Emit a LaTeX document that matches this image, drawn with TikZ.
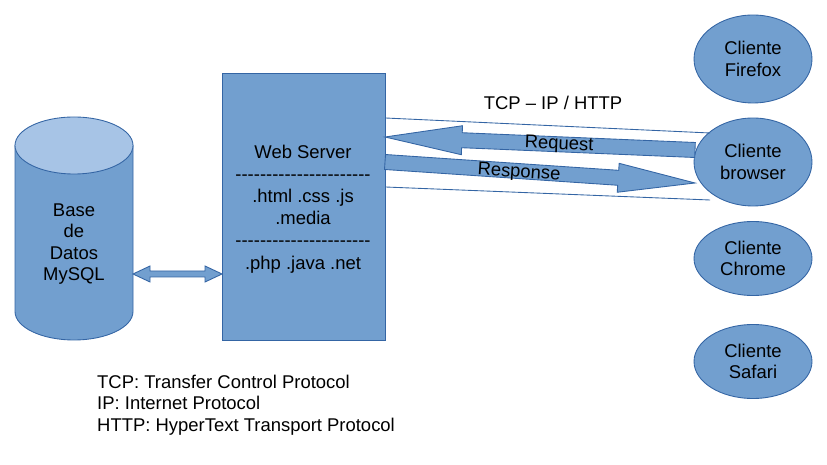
\documentclass[tikz,border=0pt]{standalone}
\usepackage{fontspec}
\setmainfont{Liberation Sans}
\usepackage{tikz}
\usetikzlibrary{positioning,shapes.geometric,calc}
\definecolor{boxfill}{HTML}{729FCF}
\definecolor{boxline}{HTML}{3465A4}
\definecolor{cyltopfill}{HTML}{A7C4E6}
\newcommand{\dashline}{\foreach \i in {1,...,22}{-}}
% fat arrow from #1 (tail) to #2 (tip)
\newcommand{\fatarrow}[2]{%
  \coordinate (fa-h) at ($(#2)!1.54cm!(#1)$);
  \draw[arrowbody] ($(#1)!0.15cm!90:(#2)$) -- ($(fa-h)!0.15cm!90:(#2)$)
    -- ($(fa-h)!0.29cm!90:(#2)$) -- (#2) -- ($(fa-h)!0.29cm!-90:(#2)$)
    -- ($(fa-h)!0.15cm!-90:(#2)$) -- ($(#1)!0.15cm!-90:(#2)$) -- cycle;}

\begin{document}
\begin{tikzpicture}[x=0.02cm,y=-0.02cm,
  every node/.style={font=\fontsize{10.5}{12.1}\selectfont,text=black},
  arrowbody/.style={draw=boxline,fill=boxfill,line width=0.5pt},
  client/.style={ellipse,draw=boxline,fill=boxfill,line width=0.5pt,
    minimum width=2.36cm,minimum height=1.76cm,inner sep=0pt},
  clientlabel/.style={align=center},
  server/.style={rectangle,draw=boxline,fill=boxfill,line width=0.5pt,
    minimum width=3.26cm,minimum height=5.34cm,align=center,
    font=\fontsize{10.5}{12.6}\selectfont},
  wire/.style={draw=boxline,line width=0.5pt}]
\useasboundingbox (0,0) rectangle (827,465);

% database
\draw[draw=boxline,fill=boxfill,line width=0.5pt] (15,145.5) -- (15,311.5)
  arc[start angle=180,end angle=0,x radius=59,y radius=28.5] -- (133,145.5) -- cycle;
\draw[draw=boxline,fill=cyltopfill,line width=0.5pt] (74,145.5) ellipse[x radius=59,y radius=28.5];
\node[align=center] (db) at (74,244) {Base\\de\\Datos\\MySQL};

% web server
\node[server] (ws) at (303.5,206.5) {};
\node[align=center,font=\fontsize{10.5}{12.6}\selectfont] (wstext) at (303,209) {Web Server\\\dashline\\.html .css .js\\.media\\\dashline\\.php .java .net};

% clients
\node[client,label={[clientlabel]center:Cliente\\Firefox}] (firefox) at (753,59) {};
\node[client,label={[clientlabel]center:Cliente\\browser}] (browser) at (753,162) {};
\node[client,minimum height=1.48cm,label={[clientlabel]center:Cliente\\Chrome}] (chrome) at (753,258.5) {};
\node[client,minimum height=1.48cm,label={[clientlabel]center:Cliente\\Safari}] (safari) at (753,361.5) {};

% channel
\coordinate (chtop) at (710,133);
\coordinate (chbot) at (710,200);
\draw[wire] (ws.east |- 0,118) -- (chtop);
\draw[wire] (ws.east |- 0,187) -- (chbot);
\node (proto) at (553,103) {TCP – IP / HTTP};

% request / response
\coordinate (reqtail) at (695,150);
\coordinate (reqtip) at (385,137);
\coordinate (restail) at (385,162);
\coordinate (restip) at (695,183);
\fatarrow{reqtail}{reqtip}
\fatarrow{restail}{restip}
\node[rotate=-2.4] (req) at (559,145) {Request};
\node[rotate=-3.9] (res) at (519,173) {Response};

% database link
\coordinate (dbport) at (133,274);
\coordinate (wsport) at (222,274);
\draw[arrowbody] (dbport) -- ++(17,-8) -- ++(0,5) -- ($(wsport)+(-17,-3)$) -- ++(0,-5)
  -- (wsport) -- ++(-17,8) -- ++(0,-5) -- ($(dbport)+(17,3)$) -- ++(0,5) -- cycle;

% legend
\node[anchor=west,align=left,font=\fontsize{10.5}{12.3}\selectfont] (legend) at (91,405) {TCP: Transfer Control Protocol\\IP: Internet Protocol\\HTTP: HyperText Transport Protocol};
\end{tikzpicture}
\end{document}
